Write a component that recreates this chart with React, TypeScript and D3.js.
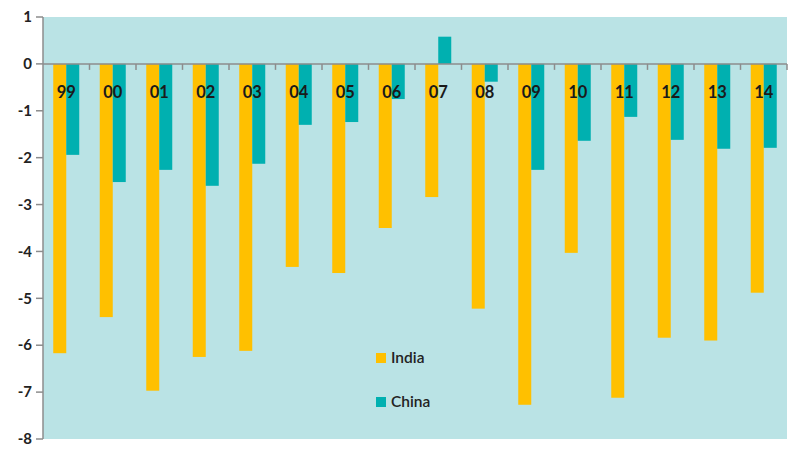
import React from "react";
import * as d3 from "d3";

const categories = ["99","00","01","02","03","04","05","06","07","08","09","10","11","12","13","14"];
const india = [-6.17,-5.4,-6.97,-6.25,-6.12,-4.33,-4.46,-3.5,-2.84,-5.22,-7.27,-4.03,-7.12,-5.84,-5.9,-4.88];
const china = [-1.94,-2.52,-2.26,-2.6,-2.13,-1.3,-1.24,-0.75,0.58,-0.38,-2.26,-1.64,-1.13,-1.62,-1.81,-1.79];
const yTicks = [1,0,-1,-2,-3,-4,-5,-6,-7,-8];
const seriesNames = ["India","China"];
const colors = ["#FFC000","#00B0B0"];

export default function App() {
  const W = 800, H = 454;
  const left = 43, right = 787, top = 17, bottom = 439;
  const y = d3.scaleLinear().domain([-8, 1]).range([bottom, top]);
  const x = d3.scaleBand().domain(categories).range([left, right]).paddingInner(0).paddingOuter(0);
  const bw = x.bandwidth();
  const barW = 13;
  const series = [india, china];
  const font = "Lato, 'Open Sans', sans-serif";
  const y0 = y(0);
  return (
    <svg width={W} height={H} style={{ position: "absolute", left: 0, top: 0 }}>
      <rect x={0} y={0} width={W} height={H} fill="#fff" />
      <rect x={left} y={top} width={right - left} height={bottom - top} fill="#BAE3E5" />
      {series.map((vals, si) =>
        vals.map((v, i) => {
          const cx = (x(categories[i]) as number) + bw / 2;
          const bx = cx - barW + si * barW;
          return (
            <rect key={si + "-" + i} x={bx} y={Math.min(y(v), y0)} width={barW}
              height={Math.abs(y(v) - y0)} fill={colors[si]} />
          );
        })
      )}
      <line x1={left} x2={left} y1={top} y2={bottom} stroke="#8c8c8c" strokeWidth={1.5} />
      {yTicks.map(t => (
        <g key={t}>
          <line x1={left - 7} x2={left} y1={y(t)} y2={y(t)} stroke="#8c8c8c" strokeWidth={1.5} />
          <text x={32} y={y(t)} dy="0.35em" textAnchor="end" fontFamily={font} fontWeight="bold" fontSize={15} fill="#222">{t}</text>
        </g>
      ))}
      <line x1={left} x2={right} y1={y0} y2={y0} stroke="#8c8c8c" strokeWidth={1.5} />
      {categories.map((c) => (
        <line key={"t" + c} x1={(x(c) as number) + bw} x2={(x(c) as number) + bw} y1={y0} y2={y0 + 6} stroke="#8c8c8c" strokeWidth={1.5} />
      ))}
      {categories.map(c => (
        <text key={"l" + c} x={(x(c) as number) + bw / 2} y={92} dy="0.35em" textAnchor="middle" fontFamily={font} fontWeight="bold" fontSize={16.5} fill="#1a1a1a">{c}</text>
      ))}
      {seriesNames.map((n, i) => (
        <g key={n} transform={`translate(376, ${353 + i * 44})`}>
          <rect x={0} y={0} width={10} height={10} fill={colors[i]} />
          <text x={15} y={5} dy="0.35em" fontFamily={font} fontWeight={600} fontSize={15.5} fill="#222">{n}</text>
        </g>
      ))}
    </svg>
  );
}
